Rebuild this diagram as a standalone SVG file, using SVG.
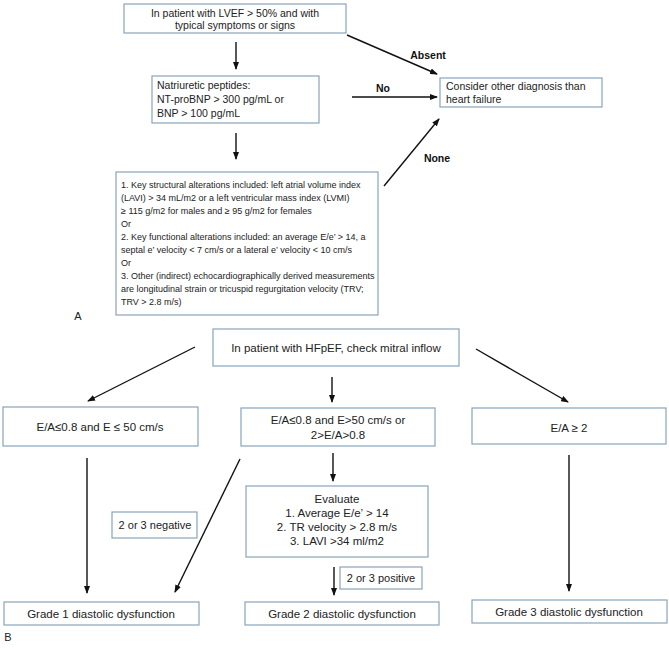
<svg xmlns="http://www.w3.org/2000/svg" width="669" height="650" viewBox="0 0 669 650">
<style>
.box{fill:#fff;stroke:#8ba3b9;stroke-width:1.2}
.t{font-family:"Liberation Sans",Arial,sans-serif;fill:#222}
.a{font-size:10.5px}
.s{font-size:9px}
.b{font-size:11.5px;text-anchor:middle}
.c{text-anchor:middle}
.lbl{font-family:"Liberation Sans",Arial,sans-serif;font-size:10.5px;font-weight:bold;fill:#111;text-anchor:middle}
.ln{stroke:#111;stroke-width:1.4;fill:none;marker-end:url(#ah)}
</style>
<defs>
<marker id="ah" markerUnits="userSpaceOnUse" markerWidth="8" markerHeight="6" refX="7" refY="3" orient="auto">
<path d="M0,0 L8,3 L0,6 Z" fill="#111"/>
</marker>
</defs>
<rect width="669" height="650" fill="#fff"/>
<g id="connectors">
<line class="ln" x1="236" y1="42" x2="236" y2="69"/>
<line class="ln" x1="347" y1="35" x2="437" y2="74"/>
<line class="ln" x1="352" y1="97" x2="437" y2="97"/>
<line class="ln" x1="236" y1="133" x2="236" y2="159"/>
<line class="ln" x1="384" y1="186" x2="439" y2="119"/>
<line class="ln" x1="195" y1="347" x2="88" y2="401"/>
<line class="ln" x1="332" y1="377" x2="332" y2="402"/>
<line class="ln" x1="476" y1="349" x2="568" y2="402"/>
<line class="ln" x1="87" y1="458" x2="87" y2="593"/>
<line class="ln" x1="240" y1="459" x2="175" y2="592"/>
<line class="ln" x1="333" y1="453" x2="333" y2="481"/>
<line class="ln" x1="334" y1="567" x2="334" y2="595"/>
<line class="ln" x1="569" y1="455" x2="569" y2="591"/>
<text class="lbl" x="428" y="59">Absent</text>
<text class="lbl" x="383" y="92">No</text>
<text class="lbl" x="437" y="162">None</text>
</g>
<g id="n-start">
<rect class="box" x="124" y="4" width="222" height="29"/>
<text class="t a c" x="235" y="16.5">In patient with LVEF &gt; 50% and with</text>
<text class="t a c" x="235" y="28.5">typical symptoms or signs</text>
</g>
<g id="n-np">
<rect class="box" x="152" y="76" width="167" height="47"/>
<text class="t a" x="157" y="89">Natriuretic peptides:</text>
<text class="t a" x="157" y="103">NT-proBNP &gt; 300 pg/mL or</text>
<text class="t a" x="157" y="117">BNP &gt; 100 pg/mL</text>
</g>
<g id="n-other">
<rect class="box" x="440" y="78" width="162" height="29"/>
<text class="t a" x="446" y="89.5">Consider other diagnosis than</text>
<text class="t a" x="446" y="103">heart failure</text>
</g>
<g id="n-criteria">
<rect class="box" x="116" y="172" width="262" height="143"/>
<text class="t s" x="121" y="188">1. Key structural alterations included: left atrial volume index</text>
<text class="t s" x="121" y="201">(LAVI) &gt; 34 mL/m2 or a left ventricular mass index (LVMI)</text>
<text class="t s" x="121" y="214">≥ 115 g/m2 for males and ≥ 95 g/m2 for females</text>
<text class="t s" x="121" y="227">Or</text>
<text class="t s" x="121" y="240">2. Key functional alterations included: an average E/e’ &gt; 14, a</text>
<text class="t s" x="121" y="253">septal e’ velocity &lt; 7 cm/s or a lateral e’ velocity &lt; 10 cm/s</text>
<text class="t s" x="121" y="266">Or</text>
<text class="t s" x="121" y="279">3. Other (indirect) echocardiographically derived measurements</text>
<text class="t s" x="121" y="292">are longitudinal strain or tricuspid regurgitation velocity (TRV;</text>
<text class="t s" x="121" y="305">TRV &gt; 2.8 m/s)</text>
</g>
<text class="t" x="78" y="320" font-size="11" text-anchor="middle">A</text>
<g id="n-hfpef">
<rect class="box" x="213" y="329" width="246" height="37"/>
<text class="t b" x="336" y="352">In patient with HFpEF, check mitral inflow</text>
</g>
<g id="n-ea1">
<rect class="box" x="3" y="407" width="195" height="39"/>
<text class="t b" x="100" y="431">E/A≤0.8 and E ≤ 50 cm/s</text>
</g>
<g id="n-ea2">
<rect class="box" x="241" y="408" width="194" height="38"/>
<text class="t b" x="338" y="424">E/A≤0.8 and E&gt;50 cm/s or</text>
<text class="t b" x="338" y="439">2&gt;E/A&gt;0.8</text>
</g>
<g id="n-ea3">
<rect class="box" x="472" y="408" width="194" height="36"/>
<text class="t b" x="569" y="432">E/A ≥ 2</text>
</g>
<g id="n-eval">
<rect class="box" x="246" y="486" width="182" height="71"/>
<text class="t b" x="337" y="503">Evaluate</text>
<text class="t b" x="337" y="517">1. Average E/e’ &gt; 14</text>
<text class="t b" x="337" y="531">2. TR velocity &gt; 2.8 m/s</text>
<text class="t b" x="337" y="545">3. LAVI &gt;34 ml/m2</text>
</g>
<g id="n-neg">
<rect class="box" x="112" y="512" width="85" height="26"/>
<text class="t c" x="155" y="529" font-size="11">2 or 3 negative</text>
</g>
<g id="n-pos">
<rect class="box" x="340" y="567" width="82" height="22"/>
<text class="t c" x="381" y="582" font-size="11">2 or 3 positive</text>
</g>
<g id="n-g1">
<rect class="box" x="4" y="602" width="195" height="23"/>
<text class="t b" x="101" y="618">Grade 1 diastolic dysfunction</text>
</g>
<g id="n-g2">
<rect class="box" x="245" y="602" width="194" height="23"/>
<text class="t b" x="342" y="618">Grade 2 diastolic dysfunction</text>
</g>
<g id="n-g3">
<rect class="box" x="472" y="600" width="195" height="23"/>
<text class="t b" x="569" y="616">Grade 3 diastolic dysfunction</text>
</g>
<text class="t" x="8" y="641" font-size="11" text-anchor="middle">B</text>
</svg>
